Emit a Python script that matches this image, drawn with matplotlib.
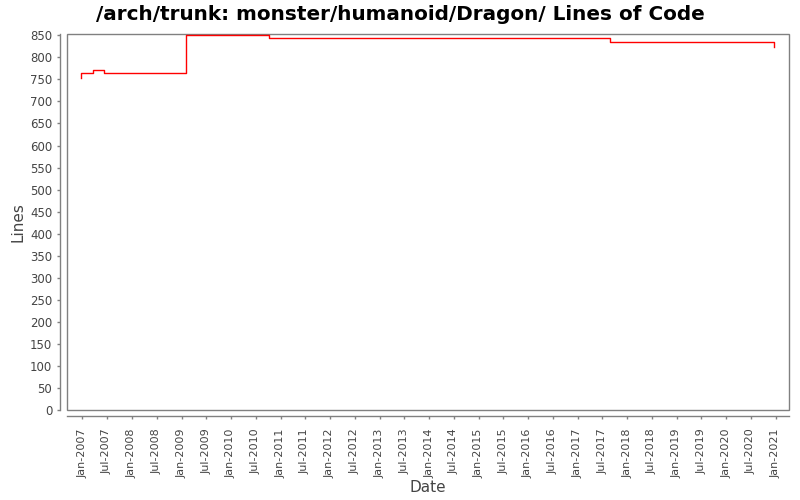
import matplotlib
matplotlib.use('Agg')
import matplotlib.pyplot as plt
import matplotlib.dates as mdates
from matplotlib.patches import Rectangle
import pandas as pd

# lines of code over time (step changes)
dates = ['2006-12-18', '2006-12-19', '2007-03-21', '2007-06-10',
         '2009-02-05', '2010-10-10', '2017-08-30', '2020-12-22']
lines = [754, 764, 771, 764, 850, 843, 834, 823]

title = '/arch/trunk: monster/humanoid/Dragon/ Lines of Code'
x_range = ['2006-09-07', '2021-04-07']
y_max = 853.7
y_step = 50

dates = pd.to_datetime(dates)
grey = '#808080'
text_col = '#444444'

fig = plt.figure(figsize=(8, 5), dpi=100)
ax = fig.add_axes([0.0834, 0.18, 0.9025, 0.7526])

ax.step(dates, lines, where='post', color='red', linewidth=1.0)

ax.set_xlim(pd.to_datetime(x_range[0]), pd.to_datetime(x_range[1]))
ax.set_ylim(0, y_max)
ax.set_yticks(range(0, 851, y_step))

ax.xaxis.set_major_locator(mdates.MonthLocator(bymonth=[1, 7]))
ax.xaxis.set_major_formatter(mdates.DateFormatter('%b-%Y'))
ax.tick_params(axis='x', labelrotation=90)

# JFreeChart-like look: frame box plus offset axis lines
for side in ['top', 'right']:
    ax.spines[side].set_visible(False)
ax.spines['left'].set_position(('outward', 5))
ax.spines['bottom'].set_position(('outward', 4))
for side in ['left', 'bottom']:
    ax.spines[side].set_color(grey)
    ax.spines[side].set_linewidth(1.0)
ax.add_patch(Rectangle((0, 0), 1, 1, transform=ax.transAxes, fill=False,
                       edgecolor=grey, linewidth=1.0, clip_on=False))

ax.tick_params(axis='both', colors=grey, labelcolor=text_col,
               length=2.5, width=1)
ax.tick_params(axis='y', labelsize=8.5, pad=3)
ax.tick_params(axis='x', labelsize=8, pad=7)

fig.suptitle(title, x=0.5, y=0.972, va='center', fontsize=14.4,
             fontweight='bold')
ax.set_xlabel('Date', fontsize=11, color=text_col, labelpad=1)
ax.set_ylabel('Lines', fontsize=11, color=text_col, labelpad=3)

fig.savefig('out.png', dpi=100)
